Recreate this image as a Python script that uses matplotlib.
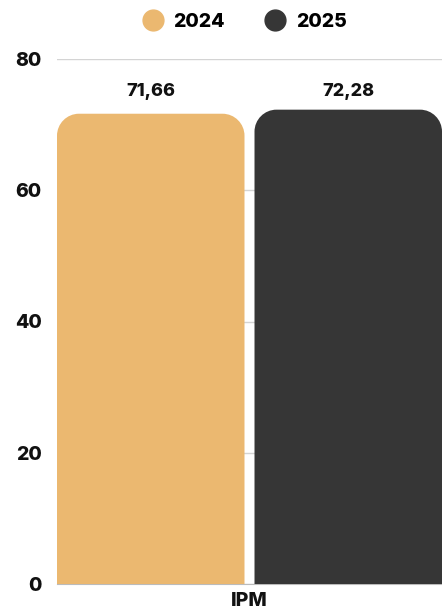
import matplotlib.pyplot as plt
import numpy as np
from matplotlib.path import Path
from matplotlib.patches import PathPatch
from matplotlib.lines import Line2D

# 数据
categories = ['IPM']
years = ['2024', '2025']
values = [71.66, 72.28]
value_labels = ['71,66', '72,28']
colors = ['#EBB870', '#363636']
yticks = [0, 20, 40, 60, 80]

plt.rcParams['font.family'] = ['Inter', 'DejaVu Sans']
plt.rcParams['font.weight'] = 'heavy'

W, H = 442, 613
fig = plt.figure(figsize=(W / 100, H / 100), dpi=100)
ax = fig.add_axes([57 / W, (H - 584) / H, (442 - 57) / W, (584 - 59) / H])

ax.set_xlim(-0.5, 0.5)
ax.set_ylim(0, 80)

# 先用 bar 得到几何位置，再换成顶部圆角的形状
bar_w = 0.487
offsets = [-0.5 + bar_w / 2, 0.5 - bar_w / 2]
bars = ax.bar(offsets, values, width=bar_w, color=colors)

ax_w_px = 442 - 57
ax_h_px = 584 - 59
r_px = 22
rx = r_px / ax_w_px * 1.0
ry = r_px / ax_h_px * 80
k = 0.5523
label_y = 75  # 两个数值标签同一高度

for i, (b, c) in enumerate(zip(bars, colors)):
    x0, y0 = b.get_x(), b.get_y()
    w, h = b.get_width(), b.get_height()
    x1, y1 = x0 + w, y0 + h
    verts = [
        (x0, y0), (x0, y1 - ry),
        (x0, y1 - ry + k * ry), (x0 + rx - k * rx, y1), (x0 + rx, y1),
        (x1 - rx, y1),
        (x1 - rx + k * rx, y1), (x1, y1 - ry + k * ry), (x1, y1 - ry),
        (x1, y0), (x0, y0),
    ]
    codes = [Path.MOVETO, Path.LINETO,
             Path.CURVE4, Path.CURVE4, Path.CURVE4,
             Path.LINETO,
             Path.CURVE4, Path.CURVE4, Path.CURVE4,
             Path.LINETO, Path.CLOSEPOLY]
    b.remove()
    ax.add_patch(PathPatch(Path(verts, codes), facecolor=c, edgecolor='none', zorder=3))
    ax.text(x0 + w / 2, label_y, value_labels[i], ha='center', va='center',
            fontsize=13, fontweight='heavy', color='#111111')

# 网格与坐标轴
ax.set_yticks(yticks)
ax.set_yticklabels([str(t) for t in yticks], fontsize=14, fontweight='heavy', color='#111111')
ax.yaxis.grid(True, color='#d4d4d4', linewidth=1)
ax.set_axisbelow(True)
ax.tick_params(axis='y', length=0, pad=11)
ax.set_xticks([0])
ax.set_xticklabels(categories, fontsize=14, fontweight='heavy', color='#111111')
ax.tick_params(axis='x', length=0, pad=6)
for s in ['top', 'right', 'left']:
    ax.spines[s].set_visible(False)
ax.spines['bottom'].set_color('#bbbbbb')

# 图例（圆点）
handles = [Line2D([0], [0], marker='o', linestyle='', markersize=15,
                  markerfacecolor=c, markeredgecolor=c) for c in colors]
fig.legend(handles, years, loc='center', bbox_to_anchor=(244 / W, 1 - 22 / H),
           ncol=2, frameon=False, prop={'size': 14, 'weight': 'heavy'},
           handletextpad=0.45, columnspacing=2.0, handlelength=1.2)

fig.savefig('out.png', dpi=100)
